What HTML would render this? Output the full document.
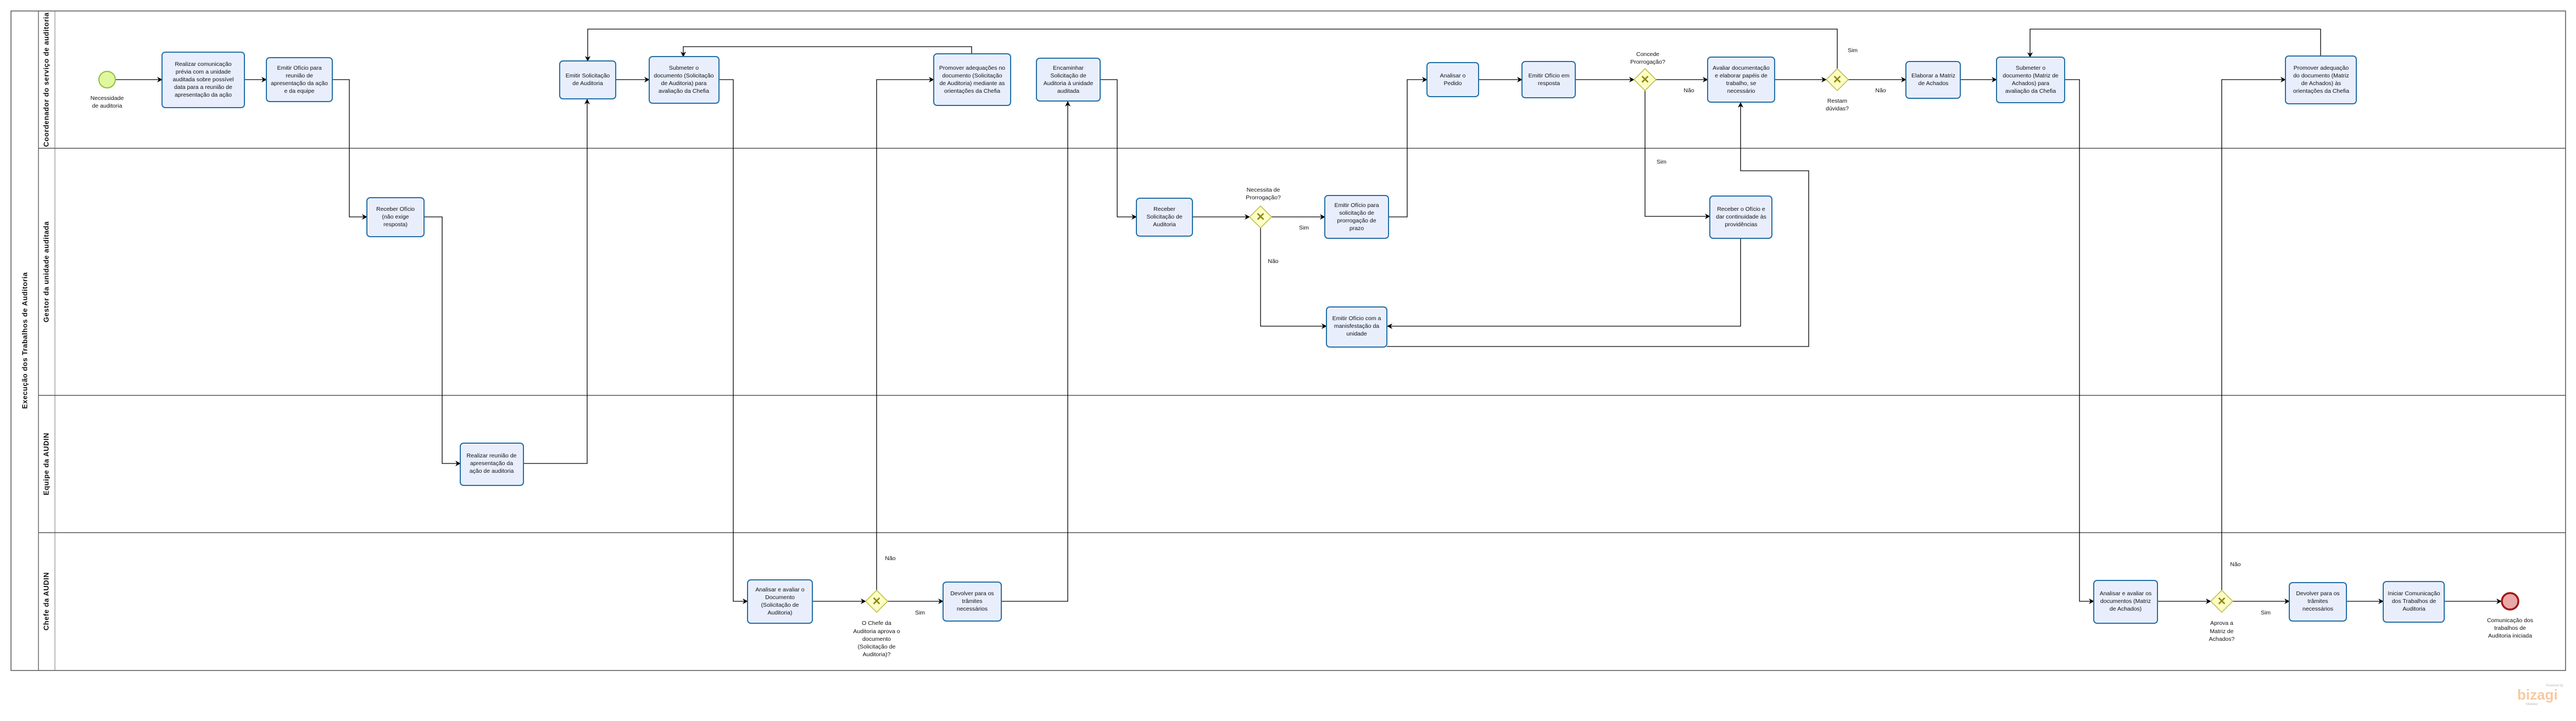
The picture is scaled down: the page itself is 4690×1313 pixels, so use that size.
<!DOCTYPE html>
<html><head><meta charset="utf-8"><style>
html,body{margin:0;padding:0;background:#fff;}
svg{display:block;}
text{font-family:"Liberation Sans",sans-serif;fill:#111;}
.t{font-size:10.5px;text-anchor:middle;dominant-baseline:middle;}
.lane{font-size:13px;font-weight:bold;text-anchor:middle;dominant-baseline:middle;letter-spacing:0.5px;}
.box{fill:#e9eefc;stroke:#2470a6;stroke-width:2;}
.c{fill:none;stroke:#000;stroke-width:1.3;}
.gw{fill:#fdfdc4;stroke:#b9b940;stroke-width:1.5;}
</style></head><body>
<svg width="4690" height="1313" viewBox="0 0 4690 1313" xmlns="http://www.w3.org/2000/svg">
<defs>
<marker id="a" markerWidth="10" markerHeight="10" refX="9" refY="5" orient="auto" markerUnits="userSpaceOnUse">
<path d="M0,0 L10,5 L0,10 L3,5 Z" fill="#000"/></marker>
</defs>
<!-- pool -->
<rect x="20" y="20" width="4651" height="1201" fill="#fff" stroke="#555" stroke-width="1.5"/>
<line x1="70" y1="20" x2="70" y2="1221" stroke="#555" stroke-width="1.3"/>
<line x1="100" y1="20" x2="100" y2="1221" stroke="#777" stroke-width="1"/>
<line x1="70" y1="270" x2="4671" y2="270" stroke="#555" stroke-width="1.5"/>
<line x1="70" y1="720" x2="4671" y2="720" stroke="#555" stroke-width="1.5"/>
<line x1="70" y1="970" x2="4671" y2="970" stroke="#555" stroke-width="1.5"/>
<text class="lane" transform="translate(46,620) rotate(-90)">Execução dos Trabalhos de Auditoria</text>
<text class="lane" transform="translate(85,145) rotate(-90)">Coordenador do serviço de auditoria</text>
<text class="lane" transform="translate(85,495) rotate(-90)">Gestor da unidade auditada</text>
<text class="lane" transform="translate(85,845) rotate(-90)">Equipe da AUDIN</text>
<text class="lane" transform="translate(85,1095) rotate(-90)">Chefe da AUDIN</text>

<!-- connectors -->
<g class="c" marker-end="url(#a)">
<polyline class="c" points="210,145 295,145"/>
<polyline class="c" points="445,145 485,145"/>
<polyline class="c" points="605,145 636,145 636,395 668,395"/>
<polyline class="c" points="772,395 805,395 805,844 838,844"/>
<polyline class="c" points="953,844 1069,844 1069,181"/>
<polyline class="c" points="1121,145 1182,145"/>
<polyline class="c" points="1309,145 1335,145 1335,1095 1361,1095"/>
<polyline class="c" points="1479,1095 1576,1095"/>
<polyline class="c" points="1596,1075 1596,145 1700,145"/>
<polyline class="c" points="1616,1095 1717,1095"/>
<polyline class="c" points="1823,1095 1944,1095 1944,185"/>
<polyline class="c" points="1769,98 1769,85 1244,85 1244,103"/>
<polyline class="c" points="2003,145 2034,145 2034,395 2069,395"/>
<polyline class="c" points="2171,395 2275,395"/>
<polyline class="c" points="2315,395 2412,395"/>
<polyline class="c" points="2295,415 2295,594 2415,594"/>
<polyline class="c" points="2528,395 2562,395 2562,145 2598,145"/>
<polyline class="c" points="2692,145 2771,145"/>
<polyline class="c" points="2868,145 2975,145"/>
<polyline class="c" points="3015,145 3109,145"/>
<polyline class="c" points="2995,165 2995,394 3113,394"/>
<polyline class="c" points="3169,434 3169,594 2526,594"/>
<polyline class="c" points="2525,631 3293,631 3293,311 3169,311 3169,187"/>
<polyline class="c" points="3231,145 3325,145"/>
<polyline class="c" points="3345,125 3345,53 1070,53 1070,111"/>
<polyline class="c" points="3365,145 3470,145"/>
<polyline class="c" points="3570,145 3635,145"/>
<polyline class="c" points="3759,145 3786,145 3786,1095 3812,1095"/>
<polyline class="c" points="3928,1095 4025,1095"/>
<polyline class="c" points="4045,1075 4045,145 4161,145"/>
<polyline class="c" points="4065,1095 4168,1095"/>
<polyline class="c" points="4272,1095 4339,1095"/>
<polyline class="c" points="4450,1095 4554,1095"/>
<polyline class="c" points="4225,102 4225,53 3696,53 3696,104"/>
</g>

<!-- events -->
<circle cx="195" cy="145" r="15" fill="#e2f6a0" stroke="#8dbf3a" stroke-width="2"/>
<text class="t" x="195" y="179">Necessidade</text><text class="t" x="195" y="193">de auditoria</text>
<circle cx="4570" cy="1095" r="15" fill="#eba8a8" stroke="#a01818" stroke-width="3.5"/>
<text class="t" x="4570" y="1130">Comunicação dos</text><text class="t" x="4570" y="1144">trabalhos de</text><text class="t" x="4570" y="1158">Auditoria iniciada</text>

<!-- gateways -->
<g>
<polygon class="gw" points="2295,375 2315,395 2295,415 2275,395"/>
<text x="2295" y="396" style="font-size:20px;font-weight:bold;fill:#8a8a16;text-anchor:middle;dominant-baseline:middle">✕</text>
<polygon class="gw" points="2995,125 3015,145 2995,165 2975,145"/>
<text x="2995" y="146" style="font-size:20px;font-weight:bold;fill:#8a8a16;text-anchor:middle;dominant-baseline:middle">✕</text>
<polygon class="gw" points="3345,125 3365,145 3345,165 3325,145"/>
<text x="3345" y="146" style="font-size:20px;font-weight:bold;fill:#8a8a16;text-anchor:middle;dominant-baseline:middle">✕</text>
<polygon class="gw" points="1596,1075 1616,1095 1596,1115 1576,1095"/>
<text x="1596" y="1096" style="font-size:20px;font-weight:bold;fill:#8a8a16;text-anchor:middle;dominant-baseline:middle">✕</text>
<polygon class="gw" points="4045,1075 4065,1095 4045,1115 4025,1095"/>
<text x="4045" y="1096" style="font-size:20px;font-weight:bold;fill:#8a8a16;text-anchor:middle;dominant-baseline:middle">✕</text>
</g>
<text class="t" x="2300" y="346">Necessita de</text><text class="t" x="2300" y="360">Prorrogação?</text>
<text class="t" x="2374" y="415">Sim</text><text class="t" x="2318" y="476">Não</text>
<text class="t" x="3000" y="99">Concede</text><text class="t" x="3000" y="113">Prorrogação?</text>
<text class="t" x="3075" y="165">Não</text><text class="t" x="3025" y="295">Sim</text>
<text class="t" x="3345" y="184">Restam</text><text class="t" x="3345" y="198">dúvidas?</text>
<text class="t" x="3373" y="92">Sim</text><text class="t" x="3424" y="165">Não</text>
<text class="t" x="1596" y="1135">O Chefe da</text><text class="t" x="1596" y="1150">Auditoria aprova o</text><text class="t" x="1596" y="1164">documento</text><text class="t" x="1596" y="1178">(Solicitação de</text><text class="t" x="1596" y="1192">Auditoria)?</text>
<text class="t" x="1621" y="1017">Não</text><text class="t" x="1675" y="1116">Sim</text>
<text class="t" x="4045" y="1135">Aprova a</text><text class="t" x="4045" y="1150">Matriz de</text><text class="t" x="4045" y="1164">Achados?</text>
<text class="t" x="4070" y="1028">Não</text><text class="t" x="4125" y="1116">Sim</text>

<!-- tasks -->
<rect class="box" x="295" y="95" width="150" height="101" rx="6"/>
<text class="t" x="370" y="117">Realizar comunicação</text><text class="t" x="370" y="131">prévia com a unidade</text><text class="t" x="370" y="145">auditada sobre possível</text><text class="t" x="370" y="159">data para a reunião de</text><text class="t" x="370" y="173">apresentação da ação</text>

<rect class="box" x="485" y="105" width="120" height="80" rx="6"/>
<text class="t" x="545" y="124">Emitir Ofício para</text><text class="t" x="545" y="138">reunião de</text><text class="t" x="545" y="152">apresentação da ação</text><text class="t" x="545" y="166">e da equipe</text>

<rect class="box" x="668" y="360" width="104" height="71" rx="6"/>
<text class="t" x="720" y="381">Receber Ofício</text><text class="t" x="720" y="395">(não exige</text><text class="t" x="720" y="409">resposta)</text>

<rect class="box" x="838" y="807" width="115" height="77" rx="6"/>
<text class="t" x="895" y="830">Realizar reunião de</text><text class="t" x="895" y="844">apresentação da</text><text class="t" x="895" y="858">ação de auditoria</text>

<rect class="box" x="1019" y="111" width="102" height="69" rx="6"/>
<text class="t" x="1070" y="138">Emitir Solicitação</text><text class="t" x="1070" y="152">de Auditoria</text>

<rect class="box" x="1182" y="103" width="127" height="85" rx="6"/>
<text class="t" x="1245" y="124">Submeter o</text><text class="t" x="1245" y="138">documento (Solicitação</text><text class="t" x="1245" y="152">de Auditoria) para</text><text class="t" x="1245" y="166">avaliação da Chefia</text>

<rect class="box" x="1700" y="98" width="140" height="94" rx="6"/>
<text class="t" x="1770" y="124">Promover adequações no</text><text class="t" x="1770" y="138">documento (Solicitação</text><text class="t" x="1770" y="152">de Auditoria) mediante as</text><text class="t" x="1770" y="166">orientações da Chefia</text>

<rect class="box" x="1887" y="106" width="116" height="78" rx="6"/>
<text class="t" x="1945" y="124">Encaminhar</text><text class="t" x="1945" y="138">Solicitação de</text><text class="t" x="1945" y="152">Auditoria à unidade</text><text class="t" x="1945" y="166">auditada</text>

<rect class="box" x="1361" y="1056" width="118" height="79" rx="6"/>
<text class="t" x="1420" y="1074">Analisar e avaliar o</text><text class="t" x="1420" y="1088">Documento</text><text class="t" x="1420" y="1102">(Solicitação de</text><text class="t" x="1420" y="1116">Auditoria)</text>

<rect class="box" x="1717" y="1060" width="106" height="71" rx="6"/>
<text class="t" x="1770" y="1081">Devolver para os</text><text class="t" x="1770" y="1095">trâmites</text><text class="t" x="1770" y="1109">necessários</text>

<rect class="box" x="2069" y="361" width="102" height="69" rx="6"/>
<text class="t" x="2120" y="381">Receber</text><text class="t" x="2120" y="395">Solicitação de</text><text class="t" x="2120" y="409">Auditoria</text>

<rect class="box" x="2412" y="356" width="116" height="78" rx="6"/>
<text class="t" x="2470" y="374">Emitir Ofício para</text><text class="t" x="2470" y="388">solicitação de</text><text class="t" x="2470" y="402">prorrogação de</text><text class="t" x="2470" y="416">prazo</text>

<rect class="box" x="2415" y="559" width="110" height="73" rx="6"/>
<text class="t" x="2470" y="580">Emitir Ofício com a</text><text class="t" x="2470" y="594">manisfestação da</text><text class="t" x="2470" y="608">unidade</text>

<rect class="box" x="2598" y="114" width="94" height="62" rx="6"/>
<text class="t" x="2645" y="138">Analisar o</text><text class="t" x="2645" y="152">Pedido</text>

<rect class="box" x="2771" y="112" width="97" height="66" rx="6"/>
<text class="t" x="2820" y="138">Emitir Ofício em</text><text class="t" x="2820" y="152">resposta</text>

<rect class="box" x="3109" y="104" width="122" height="82" rx="6"/>
<text class="t" x="3170" y="124">Avaliar documentação</text><text class="t" x="3170" y="138">e elaborar papéis de</text><text class="t" x="3170" y="152">trabalho, se</text><text class="t" x="3170" y="166">necessário</text>

<rect class="box" x="3113" y="357" width="113" height="77" rx="6"/>
<text class="t" x="3170" y="381">Receber o Ofício e</text><text class="t" x="3170" y="395">dar continuidade às</text><text class="t" x="3170" y="409">providências</text>

<rect class="box" x="3470" y="112" width="99" height="67" rx="6"/>
<text class="t" x="3520" y="138">Elaborar a Matriz</text><text class="t" x="3520" y="152">de Achados</text>

<rect class="box" x="3635" y="104" width="124" height="83" rx="6"/>
<text class="t" x="3697" y="124">Submeter o</text><text class="t" x="3697" y="138">documento (Matriz de</text><text class="t" x="3697" y="152">Achados) para</text><text class="t" x="3697" y="166">avaliação da Chefia</text>

<rect class="box" x="4161" y="102" width="129" height="87" rx="6"/>
<text class="t" x="4226" y="124">Promover adequação</text><text class="t" x="4226" y="138">do documento (Matriz</text><text class="t" x="4226" y="152">de Achados) às</text><text class="t" x="4226" y="166">orientações da Chefia</text>

<rect class="box" x="3812" y="1057" width="116" height="78" rx="6"/>
<text class="t" x="3870" y="1081">Analisar e avaliar os</text><text class="t" x="3870" y="1095">documentos (Matriz</text><text class="t" x="3870" y="1109">de Achados)</text>

<rect class="box" x="4168" y="1061" width="104" height="70" rx="6"/>
<text class="t" x="4220" y="1081">Devolver para os</text><text class="t" x="4220" y="1095">trâmites</text><text class="t" x="4220" y="1109">necessários</text>

<rect class="box" x="4339" y="1059" width="111" height="74" rx="6"/>
<text class="t" x="4395" y="1081">Iniciar Comunicação</text><text class="t" x="4395" y="1095">dos Trabalhos de</text><text class="t" x="4395" y="1109">Auditoria</text>

<!-- bizagi mark -->
<text x="4667" y="1250" style="font-size:6px;fill:#bbb;text-anchor:end">Powered by</text>
<text x="4583" y="1274" style="font-size:26px;fill:#f7c9a0;font-weight:bold">bizagi</text>
<text x="4599" y="1284" style="font-size:6px;fill:#bbb">Modeler</text>
</svg>
</body></html>
